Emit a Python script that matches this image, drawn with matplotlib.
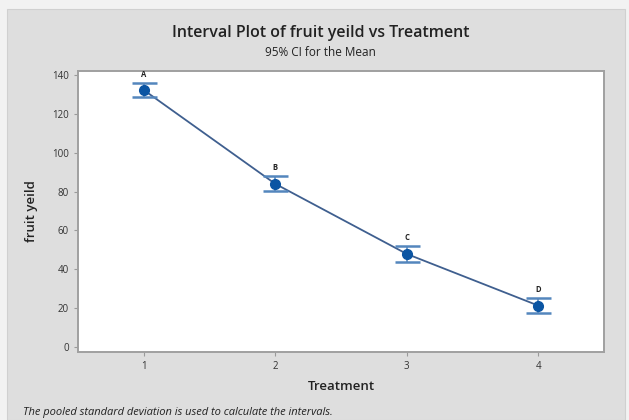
import matplotlib.pyplot as plt
from matplotlib.patches import Rectangle

plt.rcParams['font.family'] = 'Open Sans'

# --- data ---
treatment = [1, 2, 3, 4]
means = [132.3, 84.0, 47.9, 21.3]
ci_lower = [128.5, 80.3, 43.9, 17.5]
ci_upper = [136.0, 88.0, 51.8, 25.1]
groups = ['A', 'B', 'C', 'D']
yticks = [0, 20, 40, 60, 80, 100, 120, 140]

W, H = 629, 420
fig = plt.figure(figsize=(W / 100, H / 100), dpi=100)
fig.patch.set_facecolor('#f2f2f2')

# grey panel behind everything
fig.patches.append(Rectangle((7 / W, 0), 618 / W, 411 / H, transform=fig.transFigure,
                             facecolor='#dedede', edgecolor='#d0d0d0', lw=0.8, zorder=-5))

ax = fig.add_axes([78 / W, 1 - 352 / H, (604 - 78) / W, (352 - 71) / H])
ax.set_zorder(2)
ax.set_facecolor('white')

err_lo = [m - lo for m, lo in zip(means, ci_lower)]
err_hi = [hi - m for m, hi in zip(means, ci_upper)]

ax.plot(treatment, means, color='#3f5f8f', lw=1.3, zorder=2)
ax.errorbar(treatment, means, yerr=[err_lo, err_hi], fmt='none', ecolor='#5486bd',
            elinewidth=1.2, capsize=9, capthick=1.8, zorder=3)
ax.plot(treatment, means, 'o', color='#0b55a3', ms=7, zorder=4)

for x, hi, g in zip(treatment, ci_upper, groups):
    ax.text(x, hi + 2.2, g, ha='center', va='bottom', fontsize=5.5,
            fontweight='bold', color='#222222')

ax.set_xlim(0.5, 4.5)
ax.set_ylim(-2.6, 142.1)
ax.set_xticks(treatment)
ax.set_yticks(yticks)
ax.tick_params(axis='both', labelsize=7, colors='#9a9a9a', labelcolor='#333333',
               length=3, width=0.8)

for s in ax.spines.values():
    s.set_color('#a0a0a0')
    s.set_linewidth(1.4)

ax.set_xlabel('Treatment', fontsize=9.5, fontweight='semibold', color='#222222', labelpad=6)
ax.set_ylabel('fruit yeild', fontsize=9.5, fontweight='semibold', color='#222222', labelpad=10)

fig.text(0.51, 1 - 33 / H, 'Interval Plot of fruit yeild vs Treatment', ha='center',
         va='center', fontsize=11.5, fontweight='semibold', color='#222222')
fig.text(0.51, 1 - 52 / H, '95% CI for the Mean', ha='center', va='center',
         fontsize=8.5, color='#222222')
fig.text(23 / W, 1 - 413 / H, 'The pooled standard deviation is used to calculate the intervals.',
         ha='left', va='center', fontsize=8, style='italic', color='#222222')

fig.savefig('out.png', dpi=100, facecolor=fig.get_facecolor())
